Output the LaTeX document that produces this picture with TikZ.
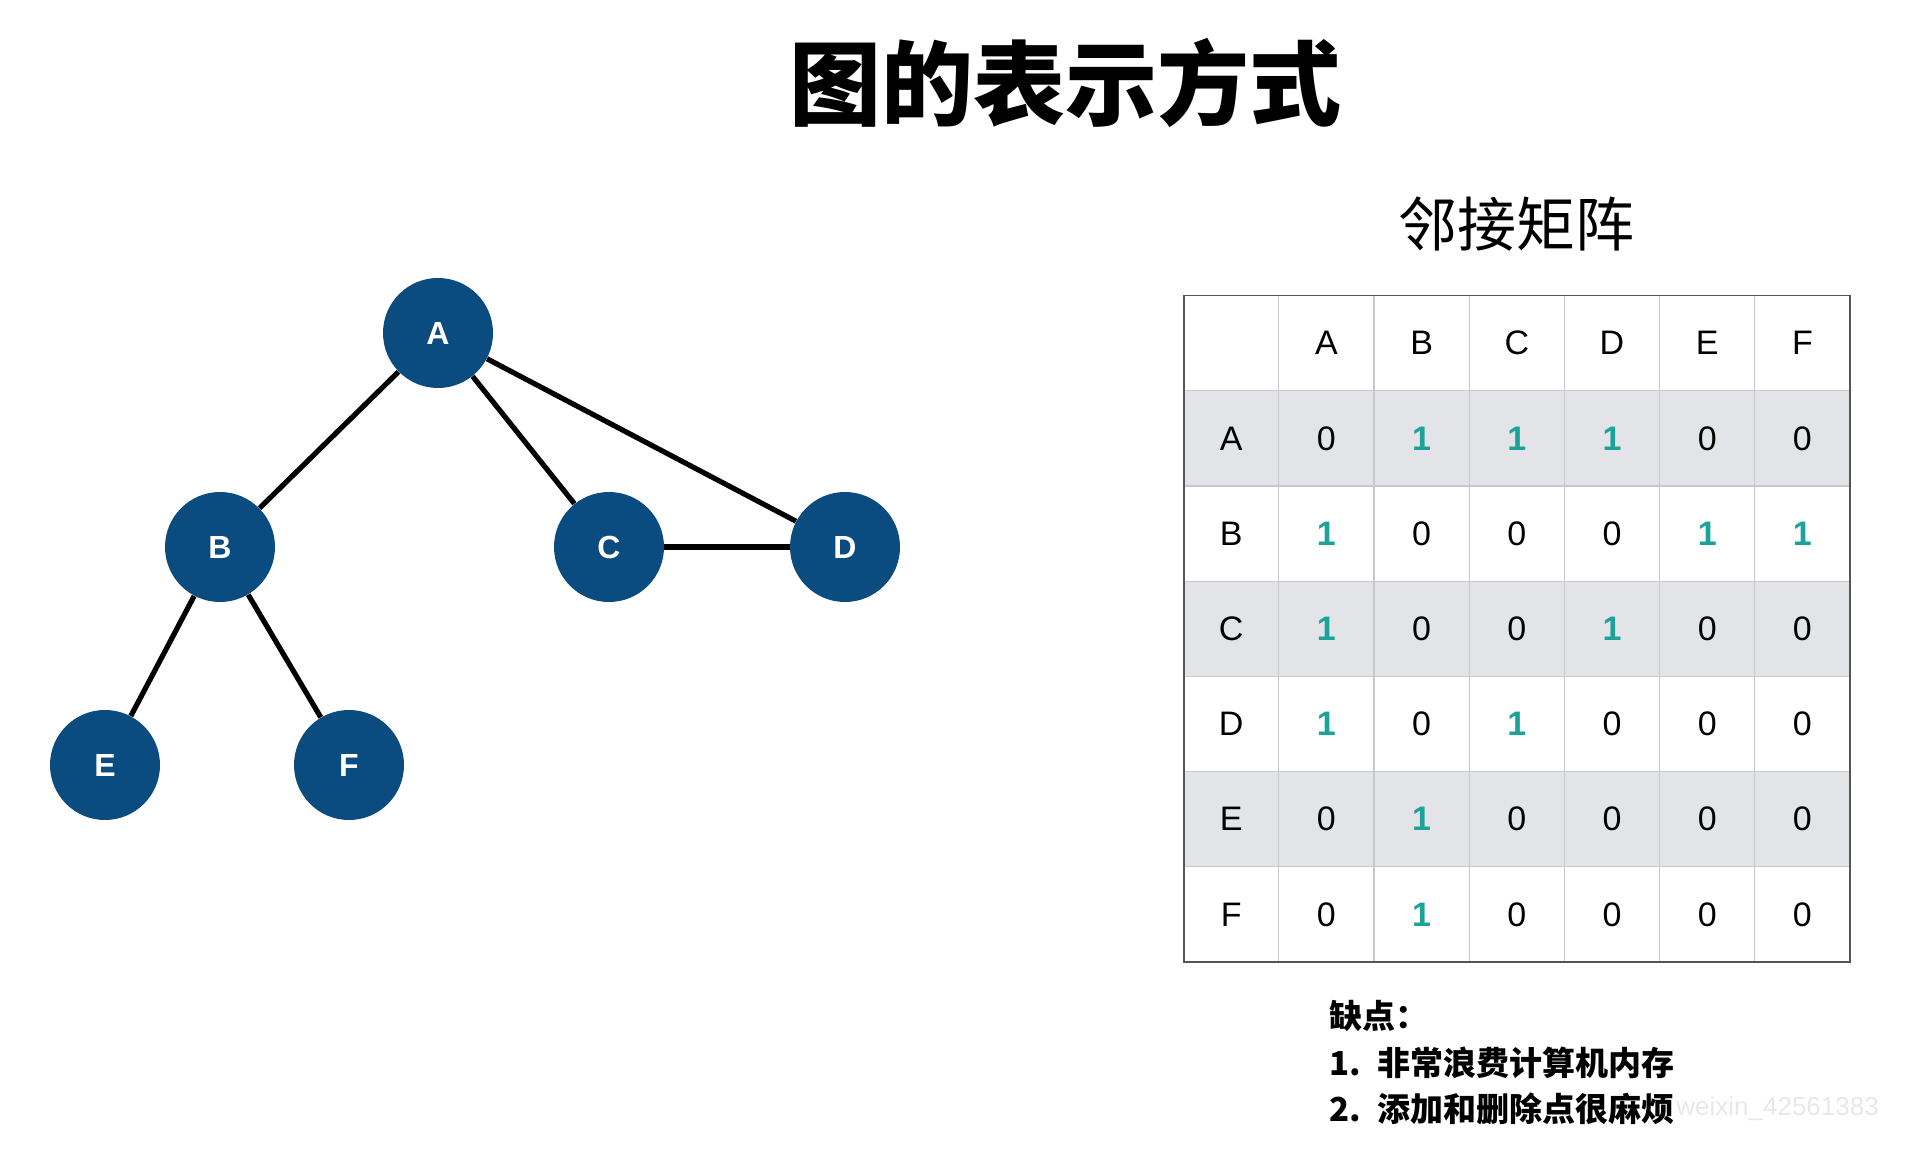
\documentclass[tikz,border=0pt]{standalone}
\usepackage{fontspec}
\setmainfont{Liberation Sans}
\newfontfamily\cjk{Noto Sans CJK SC}
\usepackage{tikz}
\usetikzlibrary{matrix,positioning}
\definecolor{nodeblue}{HTML}{0B4C80}
\definecolor{oneteal}{HTML}{1BA39A}
\definecolor{rowgray}{HTML}{E3E4E7}
\definecolor{gridgray}{HTML}{C9C9CB}
\definecolor{framegray}{HTML}{555555}

\begin{document}
\begin{tikzpicture}[x=0.5pt,y=-0.5pt,node distance=100pt,on grid]
	\tikzstyle{vertex}=[circle, fill=nodeblue, text=white, minimum size=55pt, inner sep=0pt, font=\fontsize{16}{16}\selectfont\bfseries]
	\tikzstyle{link}=[draw=black, line width=2.6pt]
	\tikzstyle{cell}=[rectangle, draw=gridgray, line width=0.6pt, minimum size=47.6pt, inner sep=0pt, anchor=center, font=\fontsize{17}{17}\selectfont]
	\tikzstyle{one}=[text=oneteal, font=\fontsize{17}{17}\selectfont\bfseries]
	
	\useasboundingbox (0,0) rectangle (1920,1170);
	
	\node (title) at (1065,83) {\cjk\bfseries\fontsize{46}{50}\selectfont 图的表示方式};
	
	% graph
	\node[vertex] (A) at (438,333)                  {A};
	\node[vertex] (B) [below left=107pt and 109pt of A]  {B};
	\node[vertex] (C) [below right=107pt and 85.5pt of A] {C};
	\node[vertex] (D) [right=118pt of C]             {D};
	\node[vertex] (E) [below left=109pt and 57.5pt of B]  {E};
	\node[vertex] (F) [below right=109pt and 64.5pt of B] {F};
	
	\path[link] (A) -- (B);
	\path[link] (A) -- (C);
	\path[link] (A) -- (D);
	\path[link] (C) -- (D);
	\path[link] (B) -- (E);
	\path[link] (B) -- (F);
	
	% adjacency matrix
	\node (mtitle) at (1516,224) {\cjk\fontsize{29.5}{32}\selectfont 邻接矩阵};
	
	\matrix (adj) [matrix of nodes, nodes in empty cells, anchor=north west, inner sep=0pt, outer sep=0pt,
		nodes={cell}, column sep=-0.6pt, row sep=-0.6pt,
		row 2/.style={nodes={fill=rowgray}},
		row 4/.style={nodes={fill=rowgray}},
		row 6/.style={nodes={fill=rowgray}}] at (1183,295)
	{
		  & A & B & C & D & E & F \\
		A & 0 & |[one]|1 & |[one]|1 & |[one]|1 & 0 & 0 \\
		B & |[one]|1 & 0 & 0 & 0 & |[one]|1 & |[one]|1 \\
		C & |[one]|1 & 0 & 0 & |[one]|1 & 0 & 0 \\
		D & |[one]|1 & 0 & |[one]|1 & 0 & 0 & 0 \\
		E & 0 & |[one]|1 & 0 & 0 & 0 & 0 \\
		F & 0 & |[one]|1 & 0 & 0 & 0 & 0 \\
	};
	\draw[draw=framegray, line width=0.9pt] (adj-1-1.north west) rectangle (adj-7-7.south east);
	
	% notes
	\node (notes) [anchor=west, align=left, font=\cjk\bfseries\fontsize{16.5}{23.25}\selectfont] at (1322,1063)
		{缺点：\\
		 \makebox[24pt][l]{1.}非常浪费计算机内存\\
		 \makebox[24pt][l]{2.}添加和删除点很麻烦};
	\node (wm) [anchor=west, inner sep=0pt, text=gray!18] at (1676,1109) {\fontsize{13}{13}\selectfont weixin\_42561383};
	
\end{tikzpicture}
\end{document}
